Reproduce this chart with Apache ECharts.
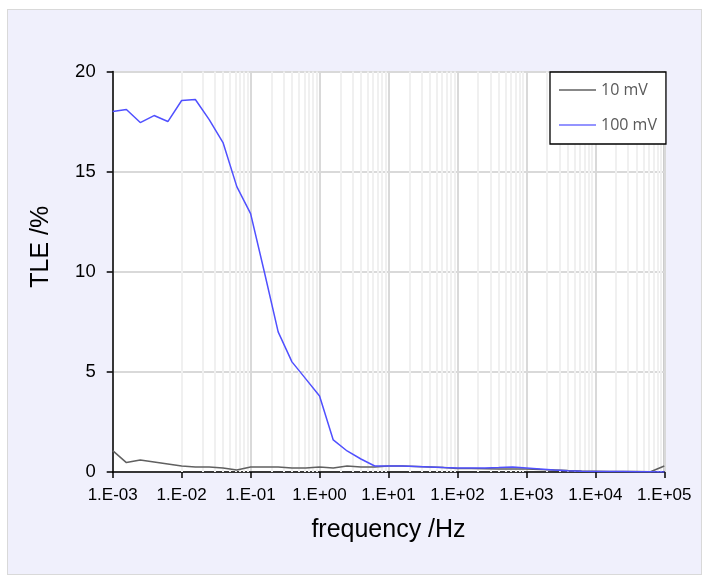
<!DOCTYPE html>
<html><head><meta charset="utf-8">
<script src="https://cdn.jsdelivr.net/npm/echarts@6/dist/echarts.min.js"></script>
<style>
html,body{margin:0;padding:0;background:#fff}
#wrap{position:relative;width:708px;height:583px;background:#fff}
#panel{position:absolute;left:7px;top:9px;width:693px;height:564px;background:#f0f0fc;border:1px solid #d9d9d9}
#c{position:absolute;left:0;top:0;width:708px;height:583px}
</style>
</head><body>
<div id="wrap"><div id="panel"></div><div id="c"></div></div>
<script>
// frequency /Hz (5 points per decade)
const frequencies = [
  0.001, 0.00158, 0.00251, 0.00398, 0.00631,
  0.01, 0.0158, 0.0251, 0.0398, 0.0631,
  0.1, 0.158, 0.251, 0.398, 0.631,
  1, 1.58, 2.51, 3.98, 6.31,
  10, 15.8, 25.1, 39.8, 63.1,
  100, 158, 251, 398, 631,
  1000, 1580, 2510, 3980, 6310,
  10000, 15800, 25100, 39800, 63100,
  100000
];
// TLE /% for 10 mV
const tle10mV = [
  1.07, 0.47, 0.6, 0.5, 0.4,
  0.3, 0.25, 0.25, 0.2, 0.1,
  0.25, 0.25, 0.25, 0.2, 0.2,
  0.25, 0.2, 0.3, 0.25, 0.25,
  0.3, 0.3, 0.28, 0.25, 0.22,
  0.18, 0.17, 0.16, 0.15, 0.15,
  0.15, 0.12, 0.1, 0.07, 0.05,
  0.04, 0.03, 0.02, 0.02, 0.01,
  0.3
];
// TLE /% for 100 mV
const tle100mV = [
  18.0, 18.1, 17.45, 17.8, 17.5,
  18.55, 18.6, 17.6, 16.45, 14.25,
  12.9, 10.0, 7.0, 5.5, 4.65,
  3.8, 1.6, 1.05, 0.65, 0.3,
  0.3, 0.3, 0.28, 0.25, 0.22,
  0.2, 0.2, 0.2, 0.22, 0.25,
  0.2, 0.15, 0.1, 0.06, 0.04,
  0.03, 0.02, 0.02, 0.01, 0.01,
  0.0
];
const seriesNames = ['10 mV', '100 mV'];
const xTickLabels = ['1.E-03','1.E-02','1.E-01','1.E+00','1.E+01','1.E+02','1.E+03','1.E+04','1.E+05'];
const decades = [0.001, 0.01, 0.1, 1, 10, 100, 1000, 10000];
const minorMultipliers = [2, 3, 4, 5, 6, 7, 8, 9];

const minorGrid = [];
decades.forEach(d => minorMultipliers.forEach(m => minorGrid.push({ xAxis: d * m })));

const chart = echarts.init(document.getElementById('c'), null, { renderer: 'canvas' });
const font = 'Liberation Sans, Arial, sans-serif';
chart.setOption({
  animation: false,
  backgroundColor: 'transparent',
  grid: {
    left: 112.7, right: 43.7, top: 71.5, bottom: 111,
    show: true, backgroundColor: '#fff', borderColor: '#000', borderWidth: 1
  },
  legend: {
    data: seriesNames,
    orient: 'vertical',
    left: 550, top: 72,
    z: 10,
    backgroundColor: '#fff',
    borderColor: '#000', borderWidth: 1.3,
    borderRadius: 0,
    padding: [10, 9, 11, 9],
    icon: 'rect',
    itemWidth: 37, itemHeight: 1.5, itemGap: 19,
    textStyle: { fontSize: 16, lineHeight: 16, color: '#595959', fontFamily: 'Open Sans, Noto Sans, sans-serif' }
  },
  xAxis: {
    type: 'log', logBase: 10,
    min: 0.001, max: 100000, interval: 1,
    name: 'frequency /Hz', nameLocation: 'middle', nameGap: 46,
    nameTextStyle: { fontSize: 25, color: '#000', fontFamily: font },
    axisLine: { lineStyle: { color: '#000', width: 1.5 } },
    axisTick: { show: true, length: 6, inside: false, lineStyle: { color: '#000', width: 1.5 } },
    axisLabel: {
      fontSize: 17, color: '#000', fontFamily: font, margin: 15,
      formatter: v => xTickLabels[Math.round(Math.log10(v)) + 3]
    },
    splitLine: { show: true, lineStyle: { color: '#d9d9d9', width: 2 } },
    minorTick: { show: false }, minorSplitLine: { show: false }
  },
  yAxis: {
    type: 'value', min: 0, max: 20, interval: 5,
    name: 'TLE /%', nameLocation: 'middle', nameGap: 59, nameRotate: 90,
    nameTextStyle: { fontSize: 25, color: '#000', fontFamily: font, padding: [0, 0, 0, 50] },
    axisLine: { show: true, lineStyle: { color: '#000', width: 1.5 } },
    axisTick: { show: true, length: 6, inside: false, lineStyle: { color: '#000', width: 1.5 } },
    axisLabel: { fontSize: 18.5, color: '#000', fontFamily: font, margin: 17 },
    splitLine: { show: true, lineStyle: { color: '#d9d9d9', width: 2 } }
  },
  series: [
    {
      type: 'line', name: 'minor-grid', data: [], silent: true, z: 1,
      markLine: {
        silent: true, symbol: 'none', animation: false, z: 1,
        label: { show: false },
        lineStyle: { color: '#f0f0f0', width: 2, type: 'solid' },
        emphasis: { disabled: true },
        data: minorGrid
      }
    },
    {
      type: 'line', name: seriesNames[0], symbol: 'none', z: 3,
      data: frequencies.map((f, i) => [f, tle10mV[i]]),
      lineStyle: { color: '#606060', width: 1.5 }, itemStyle: { color: '#606060' }
    },
    {
      type: 'line', name: seriesNames[1], symbol: 'none', z: 4,
      data: frequencies.map((f, i) => [f, tle100mV[i]]),
      lineStyle: { color: '#5050ff', width: 1.5 }, itemStyle: { color: '#7070ff' }
    }
  ]
});
</script>
</body></html>
